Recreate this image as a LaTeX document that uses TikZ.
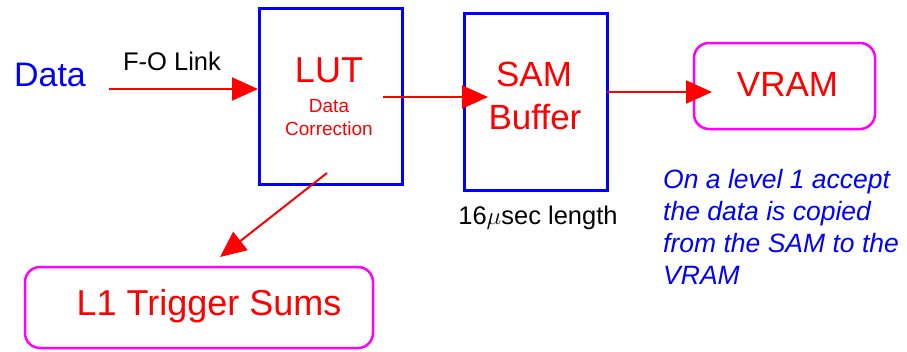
\documentclass[tikz,border=0pt]{standalone}
\usepackage{fontspec}
\setmainfont{Liberation Sans}
\usetikzlibrary{arrows.meta}
\definecolor{pblue}{RGB}{0,0,255}
\definecolor{pred}{RGB}{255,0,0}
\definecolor{pmag}{RGB}{255,0,255}
\begin{document}
\begin{tikzpicture}[x=1pt,y=-1pt,
  blk/.style={draw=pblue,line width=3pt,inner sep=0pt},
  rbox/.style={draw=pmag,line width=2.5pt,rounded corners=15pt,inner sep=0pt},
  arr/.style={draw=pred,line width=2pt,-{Triangle[length=26pt,width=23pt]}},
  txt/.style={inner sep=0pt,anchor=base},
  big/.style={txt,text=pred,font=\fontsize{36}{40}\selectfont},
  small/.style={txt,text=pred,font=\fontsize{19}{22}\selectfont},
  lbl/.style={txt,text=black,font=\fontsize{25.5}{28}\selectfont},
  note/.style={txt,anchor=base west,text=pblue,font=\fontsize{26.5}{32}\selectfont\itshape}]
\useasboundingbox (0,0) rectangle (907,351);
% boxes
\draw[blk] (259,8) rectangle (402,184);
\node[inner sep=0pt,minimum width=143pt,minimum height=176pt] (lut) at (330.5,96) {};
\draw[blk] (464,13) rectangle (607,190);
\node[inner sep=0pt,minimum width=143pt,minimum height=177pt] (sam) at (535.5,101.5) {};
\node[rbox,minimum width=181pt,minimum height=86pt] (vram) at (784.5,86) {};
\node[rbox,minimum width=348pt,minimum height=81pt] (l1) at (199,307.5) {};
% texts
\node[txt,text=pblue,font=\fontsize{34}{40}\selectfont] (data) at (50,86) {Data};
\node[lbl] (fo) at (172,70) {F-O Link};
\node[big] (luttxt) at (329,82) {LUT};
\node[small] (dc1) at (329,112) {Data};
\node[small] (dc2) at (329,135) {Correction};
\node[big,font=\fontsize{35}{40}\selectfont] (samtxt) at (534,86) {SAM};
\node[big,font=\fontsize{35}{40}\selectfont] (buftxt) at (535,129) {Buffer};
\node[big,font=\fontsize{35}{40}\selectfont] (vramtxt) at (787.5,96) {VRAM};
\node[big] (l1txt) at (209,315) {L1 Trigger Sums};
\node[lbl] (len) at (538,224) {16$\mu$sec length};
\node[note] (n1) at (663,188) {On a level 1 accept};
\node[note] (n2) at (663,220) {the data is copied};
\node[note] (n3) at (663,252) {from the SAM to the};
\node[note] (n4) at (663,284) {VRAM};
% connector ends
\coordinate (s1) at (109,89);
\coordinate (e1) at (258,89);
\coordinate (s2) at (383,97);
\coordinate (e2) at (488,97);
\coordinate (s3) at (607,92);
\coordinate (e3) at (712,92);
\coordinate (s4) at (327,173);
\coordinate (e4) at (220,257);
\draw[arr] (s1) -- (e1);
\draw[arr] (s2) -- (e2);
\draw[arr] (s3) -- (e3);
\draw[arr] (s4) -- (e4);
\end{tikzpicture}
\end{document}
